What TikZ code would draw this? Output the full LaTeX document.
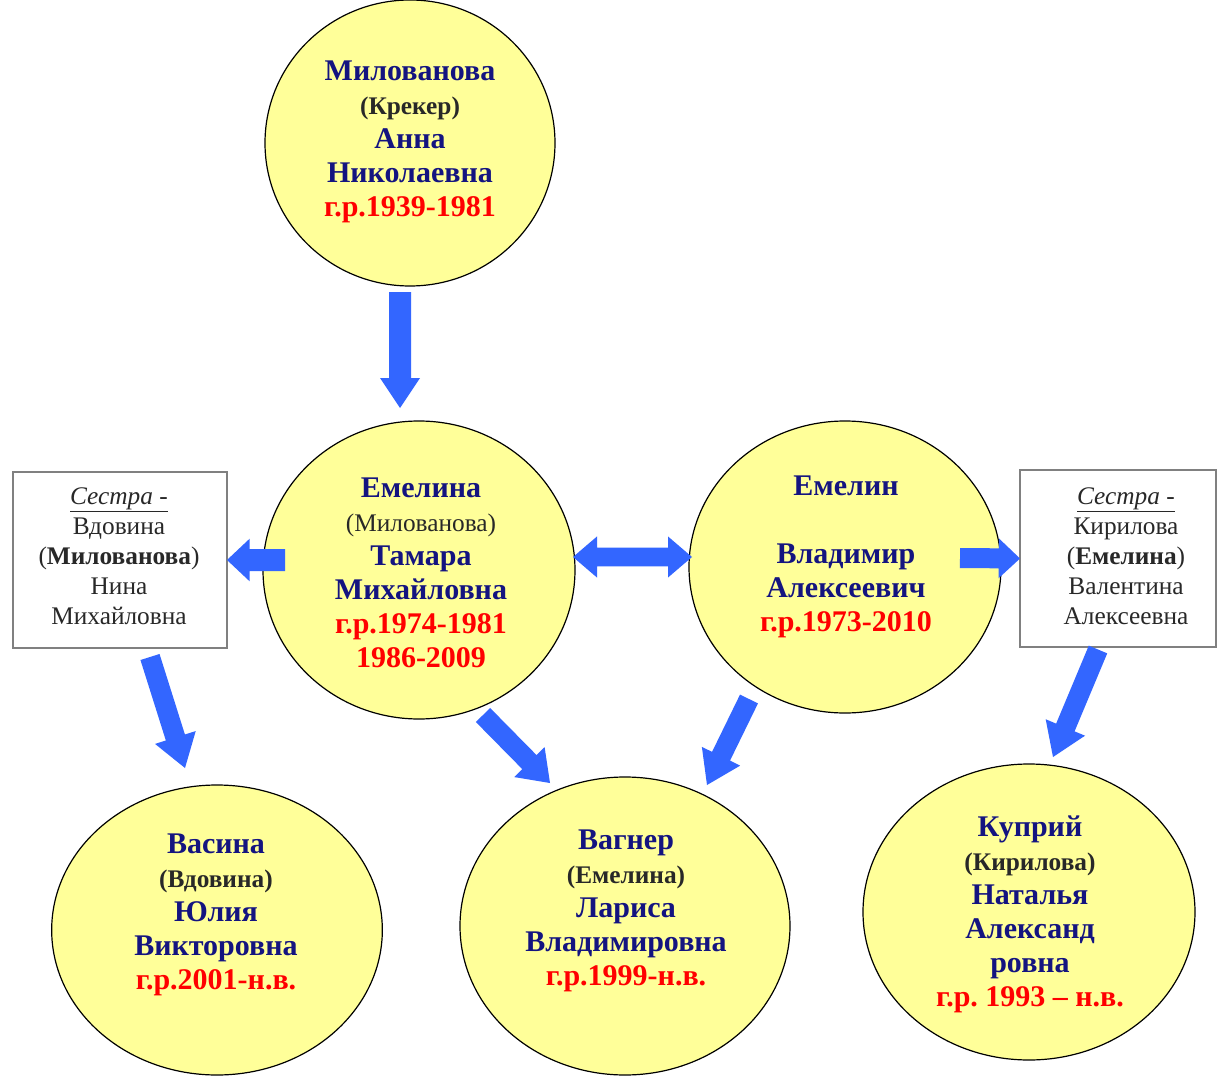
\documentclass[tikz,border=0pt]{standalone}
\usepackage{fontspec}
\setmainfont{Liberation Serif}
\usetikzlibrary{shapes.geometric,calc}
\frenchspacing
\definecolor{pfill}{RGB}{255,255,153}
\definecolor{pname}{RGB}{20,20,128}
\definecolor{pred}{RGB}{255,0,0}
\definecolor{parrow}{RGB}{51,102,255}
\definecolor{pbox}{RGB}{128,128,128}
\definecolor{pdark}{RGB}{40,40,40}
% block arrow: start, end, half shaft, half head, head length
\newcommand\blockarr[5]{%
  \coordinate (ba-s) at #1; \coordinate (ba-e) at #2;
  \coordinate (ba-b) at ($(ba-e)!#5!(ba-s)$);
  \fill[parrow] ($(ba-s)!#3!90:(ba-e)$) -- ($(ba-b)!#3!90:(ba-e)$) -- ($(ba-b)!#4!90:(ba-e)$) -- (ba-e)
    -- ($(ba-b)!#4!-90:(ba-e)$) -- ($(ba-b)!#3!-90:(ba-e)$) -- ($(ba-s)!#3!-90:(ba-e)$) -- cycle;}
% double block arrow: end1, end2, half shaft, half head, head length
\newcommand\dblarr[5]{%
  \coordinate (da-s) at #1; \coordinate (da-e) at #2;
  \coordinate (da-b) at ($(da-e)!#5!(da-s)$);
  \coordinate (da-a) at ($(da-s)!#5!(da-e)$);
  \fill[parrow] (da-s) -- ($(da-a)!#4!-90:(da-e)$) -- ($(da-a)!#3!-90:(da-e)$) -- ($(da-b)!#3!90:(da-s)$)
    -- ($(da-b)!#4!90:(da-s)$) -- (da-e) -- ($(da-b)!#4!-90:(da-s)$) -- ($(da-b)!#3!-90:(da-s)$)
    -- ($(da-a)!#3!90:(da-e)$) -- ($(da-a)!#4!90:(da-e)$) -- cycle;}
\newcommand\parfont{\fontsize{19}{25}\selectfont\color{pdark}}
\begin{document}
\begin{tikzpicture}[x=0.75pt,y=-0.75pt,
  person/.style={ellipse, draw=black, line width=0.9pt, fill=pfill, inner sep=0pt},
  ptext/.style={align=center, text=pname, inner sep=0pt, font=\fontsize{22.5}{25.5}\selectfont\bfseries},
  sbox/.style={rectangle, draw=pbox, line width=1.4pt, fill=white, inner sep=0pt},
  btext/.style={align=center, text=pdark, inner sep=0pt, font=\fontsize{19}{22.5}\selectfont}]
\fill[white] (0,0) rectangle (1218,1077);
\useasboundingbox (0,0) rectangle (1218,1077);

% circles
\node[person, minimum width=217.5pt, minimum height=214.5pt] (top) at (410,143) {};
\node[person, minimum width=234pt, minimum height=223.5pt] (tamara) at (419,570) {};
\node[person, minimum width=234pt, minimum height=219pt] (emelin) at (845,567) {};
\node[person, minimum width=248pt, minimum height=217.5pt] (vasina) at (217,930) {};
\node[person, minimum width=247.5pt, minimum height=223.5pt] (wagner) at (625,926) {};
\node[person, minimum width=249pt, minimum height=222pt] (kupriy) at (1029,912) {};
% boxes
\node[sbox, minimum width=160.5pt, minimum height=132pt] (lbox) at (120,560) {};
\node[sbox, minimum width=147pt, minimum height=132.75pt] (rbox) at (1118,558.5) {};

% texts
\node[ptext] (top-t) at (410,142) {Милованова\\{\parfont(Крекер)}\\Анна\\Николаевна\\{\color{pred}г.р.1939-1981}};
\node[ptext] (tamara-t) at (421,573) {Емелина\\{\parfont\mdseries(Милованова)}\\Тамара\\Михайловна\\{\color{pred}г.р.1974-1981}\\{\color{pred}1986-2009}};
\node[ptext] (emelin-t) at (846,557) {Емелин\\ \\Владимир\\Алексеевич\\{\color{pred}г.р.1973-2010}};
\node[ptext] (vasina-t) at (216,915) {Васина\\{\parfont(Вдовина)}\\Юлия\\Викторовна\\{\color{pred}г.р.2001-н.в.}};
\node[ptext] (wagner-t) at (626,911) {Вагнер\\{\parfont(Емелина)}\\Лариса\\Владимировна\\{\color{pred}г.р.1999-н.в.}};
\node[ptext] (kupriy-t) at (1030,914) {Куприй\\{\parfont(Кирилова)}\\Наталья\\Александ\\ровна\\{\color{pred}г.р. 1993 – н.в.}};
\node[btext] (lbox-t) at (119,556) {{\itshape\underline{Сестра -}}\\Вдовина\\({\bfseries Милованова})\\Нина\\Михайловна};
\node[btext] (rbox-t) at (1126,556) {{\itshape\underline{Сестра -}}\\Кирилова\\({\bfseries Емелина})\\Валентина\\Алексеевна};

% arrows
\blockarr{($(top)+(-10,149)$)}{($(tamara)+(-19,-162)$)}{8.25pt}{15pt}{22.5pt}
\dblarr{($(tamara)+(154,-13)$)}{($(emelin)+(-153,-10)$)}{7.1pt}{15.4pt}{18pt}
\blockarr{($(tamara)+(-134,-10)$)}{($(lbox)+(107,0)$)}{8.25pt}{16pt}{17pt}
\blockarr{($(emelin)+(115,-9)$)}{($(rbox)+(-98,0)$)}{7.5pt}{15pt}{16pt}
\blockarr{($(lbox)+(30,97)$)}{($(vasina)+(-32,-162)$)}{7.5pt}{16pt}{24pt}
\blockarr{($(tamara)+(64,145)$)}{($(wagner)+(-75,-143)$)}{7.5pt}{16pt}{22pt}
\blockarr{($(emelin)+(-96,132)$)}{($(wagner)+(82,-141)$)}{7.5pt}{16pt}{24pt}
\blockarr{($(rbox)+(-20,91)$)}{($(kupriy)+(24,-155)$)}{7.5pt}{16pt}{24pt}
\end{tikzpicture}
\end{document}
